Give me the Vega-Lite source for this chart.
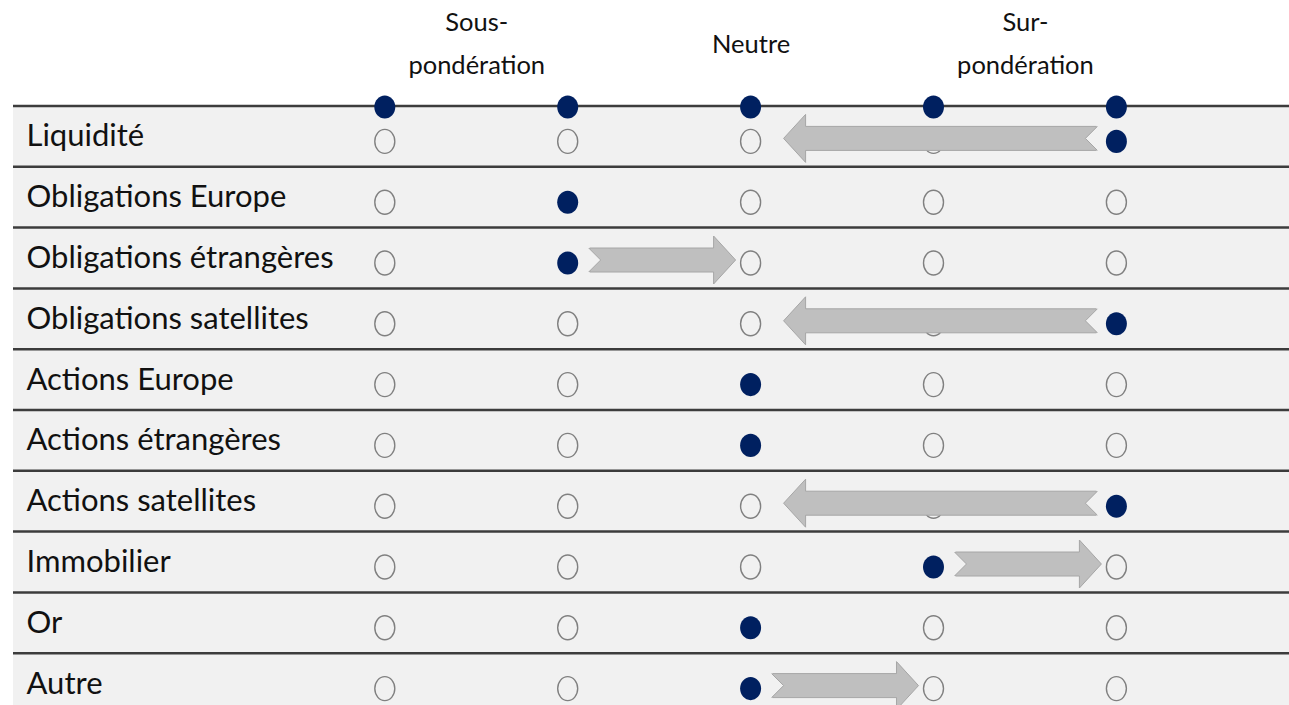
{
  "$schema": "https://vega.github.io/schema/vega-lite/v6.json",
  "width": 1276,
  "height": 608,
  "autosize": {"type": "none"},
  "padding": {"left": 13, "top": 106, "right": 0, "bottom": 0},
  "background": "white",
  "config": {"view": {"stroke": null}, "font": "Lato"},
  "datasets": {
    "classes": [
      {"classe": "Liquidité"},
      {"classe": "Obligations Europe"},
      {"classe": "Obligations étrangères"},
      {"classe": "Obligations satellites"},
      {"classe": "Actions Europe"},
      {"classe": "Actions étrangères"},
      {"classe": "Actions satellites"},
      {"classe": "Immobilier"},
      {"classe": "Or"},
      {"classe": "Autre"}
    ],
    "niveaux": [
      {"niveau": 1}, {"niveau": 2}, {"niveau": 3}, {"niveau": 4}, {"niveau": 5}
    ],
    "cellules": [
      {"classe": "Liquidité", "niveau": 1, "choisi": false},
      {"classe": "Liquidité", "niveau": 2, "choisi": false},
      {"classe": "Liquidité", "niveau": 3, "choisi": false},
      {"classe": "Liquidité", "niveau": 4, "choisi": false},
      {"classe": "Liquidité", "niveau": 5, "choisi": true},
      {"classe": "Obligations Europe", "niveau": 1, "choisi": false},
      {"classe": "Obligations Europe", "niveau": 2, "choisi": true},
      {"classe": "Obligations Europe", "niveau": 3, "choisi": false},
      {"classe": "Obligations Europe", "niveau": 4, "choisi": false},
      {"classe": "Obligations Europe", "niveau": 5, "choisi": false},
      {"classe": "Obligations étrangères", "niveau": 1, "choisi": false},
      {"classe": "Obligations étrangères", "niveau": 2, "choisi": true},
      {"classe": "Obligations étrangères", "niveau": 3, "choisi": false},
      {"classe": "Obligations étrangères", "niveau": 4, "choisi": false},
      {"classe": "Obligations étrangères", "niveau": 5, "choisi": false},
      {"classe": "Obligations satellites", "niveau": 1, "choisi": false},
      {"classe": "Obligations satellites", "niveau": 2, "choisi": false},
      {"classe": "Obligations satellites", "niveau": 3, "choisi": false},
      {"classe": "Obligations satellites", "niveau": 4, "choisi": false},
      {"classe": "Obligations satellites", "niveau": 5, "choisi": true},
      {"classe": "Actions Europe", "niveau": 1, "choisi": false},
      {"classe": "Actions Europe", "niveau": 2, "choisi": false},
      {"classe": "Actions Europe", "niveau": 3, "choisi": true},
      {"classe": "Actions Europe", "niveau": 4, "choisi": false},
      {"classe": "Actions Europe", "niveau": 5, "choisi": false},
      {"classe": "Actions étrangères", "niveau": 1, "choisi": false},
      {"classe": "Actions étrangères", "niveau": 2, "choisi": false},
      {"classe": "Actions étrangères", "niveau": 3, "choisi": true},
      {"classe": "Actions étrangères", "niveau": 4, "choisi": false},
      {"classe": "Actions étrangères", "niveau": 5, "choisi": false},
      {"classe": "Actions satellites", "niveau": 1, "choisi": false},
      {"classe": "Actions satellites", "niveau": 2, "choisi": false},
      {"classe": "Actions satellites", "niveau": 3, "choisi": false},
      {"classe": "Actions satellites", "niveau": 4, "choisi": false},
      {"classe": "Actions satellites", "niveau": 5, "choisi": true},
      {"classe": "Immobilier", "niveau": 1, "choisi": false},
      {"classe": "Immobilier", "niveau": 2, "choisi": false},
      {"classe": "Immobilier", "niveau": 3, "choisi": false},
      {"classe": "Immobilier", "niveau": 4, "choisi": true},
      {"classe": "Immobilier", "niveau": 5, "choisi": false},
      {"classe": "Or", "niveau": 1, "choisi": false},
      {"classe": "Or", "niveau": 2, "choisi": false},
      {"classe": "Or", "niveau": 3, "choisi": true},
      {"classe": "Or", "niveau": 4, "choisi": false},
      {"classe": "Or", "niveau": 5, "choisi": false},
      {"classe": "Autre", "niveau": 1, "choisi": false},
      {"classe": "Autre", "niveau": 2, "choisi": false},
      {"classe": "Autre", "niveau": 3, "choisi": true},
      {"classe": "Autre", "niveau": 4, "choisi": false},
      {"classe": "Autre", "niveau": 5, "choisi": false}
    ],
    "changements": [
      {"classe": "Liquidité", "de": 5, "vers": 3},
      {"classe": "Obligations étrangères", "de": 2, "vers": 3},
      {"classe": "Obligations satellites", "de": 5, "vers": 3},
      {"classe": "Actions satellites", "de": 5, "vers": 3},
      {"classe": "Immobilier", "de": 4, "vers": 5},
      {"classe": "Autre", "de": 3, "vers": 4}
    ]
  },
  "layer": [
    {
      "data": {"name": "classes"},
      "mark": {"type": "rect", "color": "#f1f1f1"},
      "encoding": {
        "y": {
          "field": "classe",
          "type": "nominal",
          "sort": null,
          "title": null,
          "scale": {"type": "band", "paddingInner": 0, "paddingOuter": 0},
          "axis": {
            "orient": "left",
            "domain": false,
            "ticks": false,
            "tickSize": 0,
            "grid": false,
            "labelAlign": "left",
            "labelPadding": -13,
            "labelFont": "Lato",
            "labelFontSize": 31,
            "labelColor": "#111111",
            "labelLimit": 0,
            "labelOffset": 1,
            "zindex": 1
          }
        }
      }
    },
    {
      "data": {"name": "classes"},
      "mark": {"type": "rule", "color": "#3c3c3c", "strokeWidth": 2.5},
      "encoding": {
        "y": {"field": "classe", "type": "nominal", "sort": null, "title": null, "bandPosition": 0}
      }
    },
    {
      "data": {"name": "niveaux"},
      "mark": {
        "type": "point",
        "filled": true,
        "color": "#002060",
        "opacity": 1,
        "shape": "M0,-1.1A1,1.1,0,1,1,0,1.1A1,1.1,0,1,1,0,-1.1Z",
        "size": 441,
        "yOffset": 1
      },
      "encoding": {
        "x": {
          "field": "niveau",
          "type": "quantitative",
          "title": null,
          "scale": {"domain": [-1.0328, 5.9437], "nice": false, "zero": false},
          "axis": {
            "orient": "top",
            "values": [1.5, 3, 4.5],
            "labelExpr": "datum.value == 3 ? 'Neutre' : datum.value < 3 ? ['Sous-', 'pondération'] : ['Sur-', 'pondération']",
            "domain": false,
            "ticks": false,
            "tickSize": 0,
            "grid": false,
            "labelPadding": {"condition": {"test": "datum.value == 3", "value": 62}, "value": 84},
            "labelBaseline": "middle",
            "labelAlign": "center",
            "labelLineHeight": 43,
            "labelFont": "Lato",
            "labelFontSize": 25.5,
            "labelColor": "#111111",
            "labelOverlap": false,
            "labelFlush": false,
            "zindex": 1
          }
        },
        "y": {"datum": "Liquidité", "type": "nominal", "bandPosition": 0}
      }
    },
    {
      "data": {"name": "cellules"},
      "transform": [{"filter": "!datum.choisi"}],
      "mark": {
        "type": "point",
        "filled": false,
        "stroke": "#808080",
        "strokeWidth": 1.4,
        "opacity": 1,
        "shape": "M0,-1.2A1,1.2,0,1,1,0,1.2A1,1.2,0,1,1,0,-1.2Z",
        "size": 400,
        "yOffset": 5
      },
      "encoding": {
        "x": {"field": "niveau", "type": "quantitative", "title": null},
        "y": {"field": "classe", "type": "nominal", "sort": null, "title": null}
      }
    },
    {
      "data": {"name": "cellules"},
      "transform": [{"filter": "datum.choisi"}],
      "mark": {
        "type": "point",
        "filled": true,
        "color": "#002060",
        "opacity": 1,
        "shape": "M0,-1.1A1,1.1,0,1,1,0,1.1A1,1.1,0,1,1,0,-1.1Z",
        "size": 441,
        "yOffset": 5
      },
      "encoding": {
        "x": {"field": "niveau", "type": "quantitative", "title": null},
        "y": {"field": "classe", "type": "nominal", "sort": null, "title": null}
      }
    },
    {
      "data": {"name": "changements"},
      "transform": [{"filter": "datum.vers > datum.de"}],
      "layer": [
        {
          "mark": {
            "type": "rect",
            "fill": "#bfbfbf",
            "stroke": "#a6a6a6",
            "strokeWidth": 1,
            "height": 24,
            "yOffset": 2,
            "xOffset": 22,
            "x2Offset": -35
          },
          "encoding": {
            "x": {"field": "de", "type": "quantitative", "title": null},
            "x2": {"field": "vers"},
            "y": {"field": "classe", "type": "nominal", "sort": null, "title": null}
          }
        },
        {
          "mark": {
            "type": "point",
            "filled": true,
            "fill": "#f1f1f1",
            "stroke": "#a6a6a6",
            "strokeWidth": 1,
            "opacity": 1,
            "shape": "M21,-12L33,0L21,12",
            "size": 4,
            "yOffset": 2
          },
          "encoding": {
            "x": {"field": "de", "type": "quantitative", "title": null},
            "y": {"field": "classe", "type": "nominal", "sort": null, "title": null}
          }
        },
        {
          "mark": {
            "type": "point",
            "filled": true,
            "fill": "#bfbfbf",
            "stroke": "#a6a6a6",
            "strokeWidth": 1,
            "opacity": 1,
            "shape": "M-37,-12L-37,-24L-15,0L-37,24L-37,12",
            "size": 4,
            "yOffset": 2
          },
          "encoding": {
            "x": {"field": "vers", "type": "quantitative", "title": null},
            "y": {"field": "classe", "type": "nominal", "sort": null, "title": null}
          }
        }
      ]
    },
    {
      "data": {"name": "changements"},
      "transform": [{"filter": "datum.vers < datum.de"}],
      "layer": [
        {
          "mark": {
            "type": "rect",
            "fill": "#bfbfbf",
            "stroke": "#a6a6a6",
            "strokeWidth": 1,
            "height": 24,
            "yOffset": 2,
            "xOffset": -20,
            "x2Offset": 53
          },
          "encoding": {
            "x": {"field": "de", "type": "quantitative", "title": null},
            "x2": {"field": "vers"},
            "y": {"field": "classe", "type": "nominal", "sort": null, "title": null}
          }
        },
        {
          "mark": {
            "type": "point",
            "filled": true,
            "fill": "#f1f1f1",
            "stroke": "#a6a6a6",
            "strokeWidth": 1,
            "opacity": 1,
            "shape": "M-19,-12L-31,0L-19,12",
            "size": 4,
            "yOffset": 2
          },
          "encoding": {
            "x": {"field": "de", "type": "quantitative", "title": null},
            "y": {"field": "classe", "type": "nominal", "sort": null, "title": null}
          }
        },
        {
          "mark": {
            "type": "point",
            "filled": true,
            "fill": "#bfbfbf",
            "stroke": "#a6a6a6",
            "strokeWidth": 1,
            "opacity": 1,
            "shape": "M55,-12L55,-24L33,0L55,24L55,12",
            "size": 4,
            "yOffset": 2
          },
          "encoding": {
            "x": {"field": "vers", "type": "quantitative", "title": null},
            "y": {"field": "classe", "type": "nominal", "sort": null, "title": null}
          }
        }
      ]
    }
  ]
}
